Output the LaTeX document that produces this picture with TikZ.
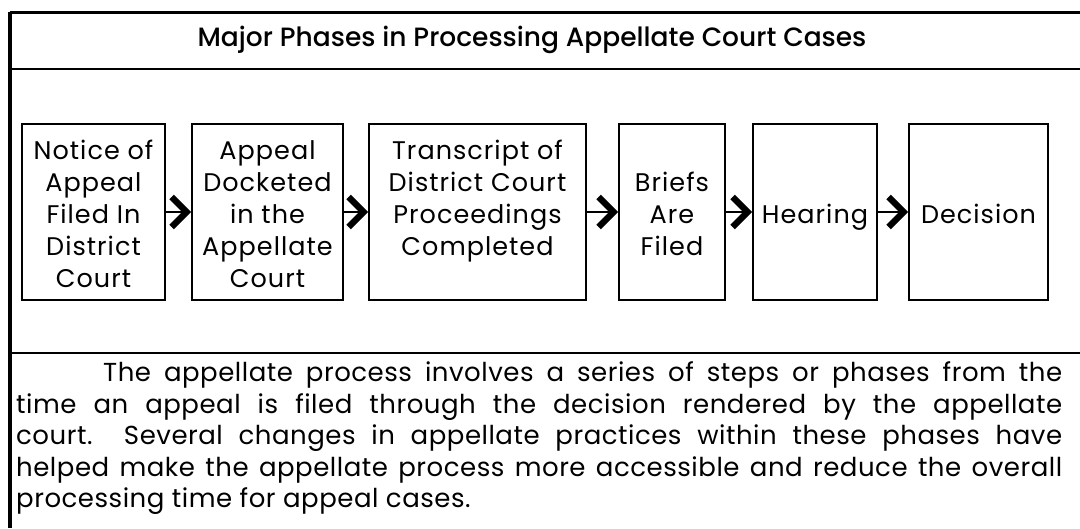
\documentclass[tikz,border=0pt]{standalone}
\usepackage{fontspec}
\setmainfont{Poppins}[LetterSpace=4]
\newfontfamily\titlefont{Poppins Medium}
\newfontfamily\parafont{Poppins}[LetterSpace=2]
\usetikzlibrary{arrows.meta}
\newcommand\rowstrut{\rule[-5pt]{0pt}{32pt}}
\newcommand\parstrut{\rule[-6pt]{0pt}{31.5pt}}
\newcommand\tightlines{\lineskiplimit=-100pt\relax}
\tikzset{
  frameline/.style={line width=#1, black},
  stepbox/.style={draw, line width=1.6pt, inner sep=0pt, align=center,
    font=\tightlines\fontsize{25.5}{32}\selectfont},
  conn/.style={line width=1.2pt,
    -{Straight Barb[length=15pt,width=30pt,line width=6.5pt,line join=miter]}},
}
\begin{document}
\begin{tikzpicture}[x=1pt,y=-1pt]
\useasboundingbox (0,0) rectangle (1080,528);
\fill[white] (0,0) rectangle (1080,528);
% frame
\coordinate (tl) at (9.5,12);
\coordinate (tr) at (1080,12);
\coordinate (bl) at (9.5,528);
\draw[frameline=3pt] (tl) -- (tr);
\draw[frameline=4pt] (tl) -- (bl);
\draw[frameline=1.8pt] (9.5,69) -- (1080,69);
\draw[frameline=1.5pt] (9.5,353) -- (1080,353);
% title
\node[font=\titlefont\fontsize{26.5}{30}\selectfont] (title) at (532,40) {Major Phases in Processing Appellate Court Cases};
% boxes
\node[stepbox, minimum width=143, minimum height=176] (b1) at (93.5,212)
  {\rowstrut Notice of\\\rowstrut Appeal\\\rowstrut Filed In\\\rowstrut District\\\rowstrut Court};
\node[stepbox, minimum width=151, minimum height=176] (b2) at (267.5,212)
  {\rowstrut Appeal\\\rowstrut Docketed\\\rowstrut in the\\\rowstrut Appellate\\\rowstrut Court};
\node[stepbox, minimum width=217, minimum height=176] (b3) at (477.5,212)
  {\rowstrut Transcript of\\\rowstrut District Court\\\rowstrut Proceedings\\\rowstrut Completed\\\rowstrut};
\node[stepbox, minimum width=106, minimum height=176] (b4) at (672,212)
  {\rowstrut\\\rowstrut Briefs\\\rowstrut Are\\\rowstrut Filed\\\rowstrut};
\node[stepbox, minimum width=124, minimum height=176] (b5) at (815,212)
  {\rowstrut\\\rowstrut\\\rowstrut Hearing\\\rowstrut\\\rowstrut};
\node[stepbox, minimum width=139, minimum height=176] (b6) at (978.5,212)
  {\rowstrut\\\rowstrut\\\rowstrut Decision\\\rowstrut\\\rowstrut};
% connectors
\draw[conn] (b1.east) -- (b2.west);
\draw[conn] (b2.east) -- (b3.west);
\draw[conn] (b3.east) -- (b4.west);
\draw[conn] (b4.east) -- (b5.west);
\draw[conn] (b5.east) -- (b6.west);
% paragraph
\node[anchor=north west, inner sep=0pt, text width=1046pt, align=justify,
  font=\tightlines\parafont\fontsize{26}{31.5}\selectfont] (para) at (16,356) {%
\parstrut\hspace*{87pt}The appellate process involves a series of steps or phases from the\linebreak
\parstrut time an appeal is filed through the decision rendered by the appellate\linebreak
\parstrut court.\ \ Several changes in appellate practices within these phases have\linebreak
\parstrut helped make the appellate process more accessible and reduce the overall\linebreak
\parstrut processing time for appeal cases.};
\end{tikzpicture}
\end{document}
